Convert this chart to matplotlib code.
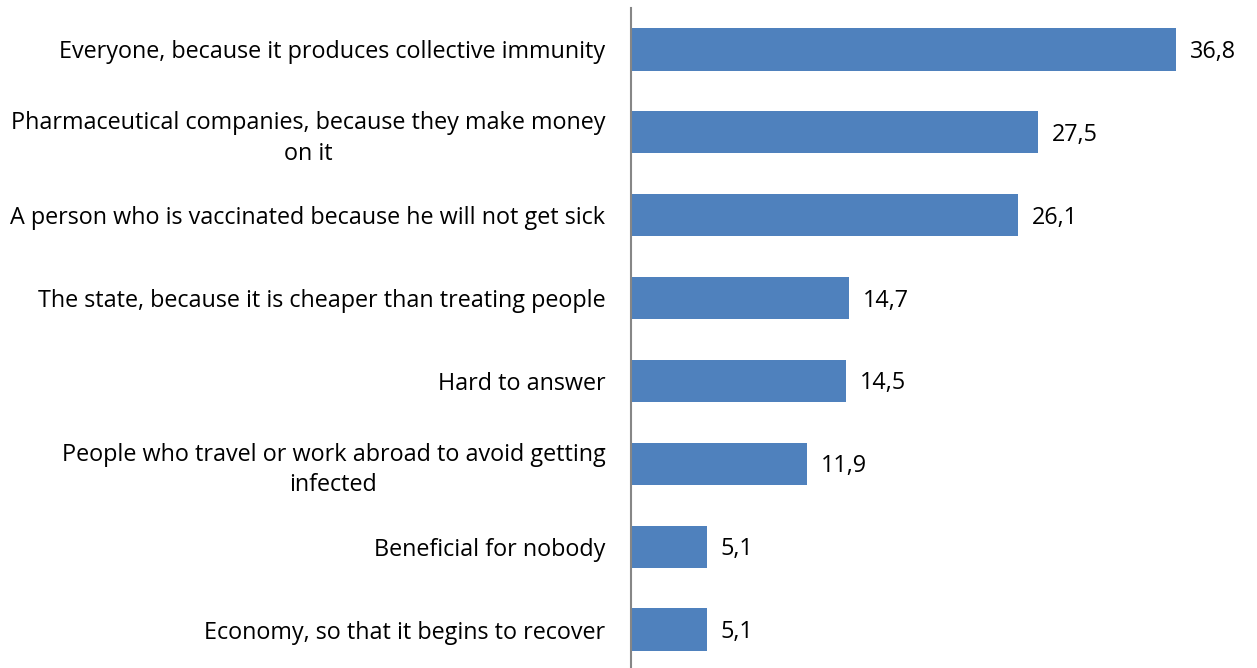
import matplotlib.pyplot as plt

categories = [
    "Everyone, because it produces collective immunity",
    "Pharmaceutical companies, because they make money\non it",
    "A person who is vaccinated because he will not get sick",
    "The state, because it is cheaper than treating people",
    "Hard to answer",
    "People who travel or work abroad to avoid getting\ninfected",
    "Beneficial for nobody",
    "Economy, so that it begins to recover",
]
values = [36.8, 27.5, 26.1, 14.7, 14.5, 11.9, 5.1, 5.1]

plt.rcParams["font.family"] = ["Open Sans", "DejaVu Sans"]

fig = plt.figure(figsize=(12.57, 6.68), dpi=100)
ax = fig.add_axes([631 / 1257, -3 / 668, 626 / 1257, 663 / 668])

pos = list(range(len(categories)))
ax.barh(pos, values, height=0.51, color="#4F81BD")
for p, v in zip(pos, values):
    ax.text(v + 0.95, p + 0.03, f"{v:.1f}".replace(".", ","), va="center", ha="left",
            fontsize=16.8, color="black")

ax.set_ylim(len(categories) - 0.5, -0.5)
ax.set_xlim(0, 626 / 14.81)
ax.set_yticks(pos)
ax.set_yticklabels(categories, fontsize=16.8, ha="right", multialignment="center",
                   linespacing=1.35)
ax.tick_params(axis="y", length=0, pad=18.5)
ax.set_xticks([])
for side in ["top", "right", "bottom"]:
    ax.spines[side].set_visible(False)
ax.spines["left"].set_color("#868686")
ax.spines["left"].set_linewidth(1.5)

fig.savefig("out.png", dpi=100)
